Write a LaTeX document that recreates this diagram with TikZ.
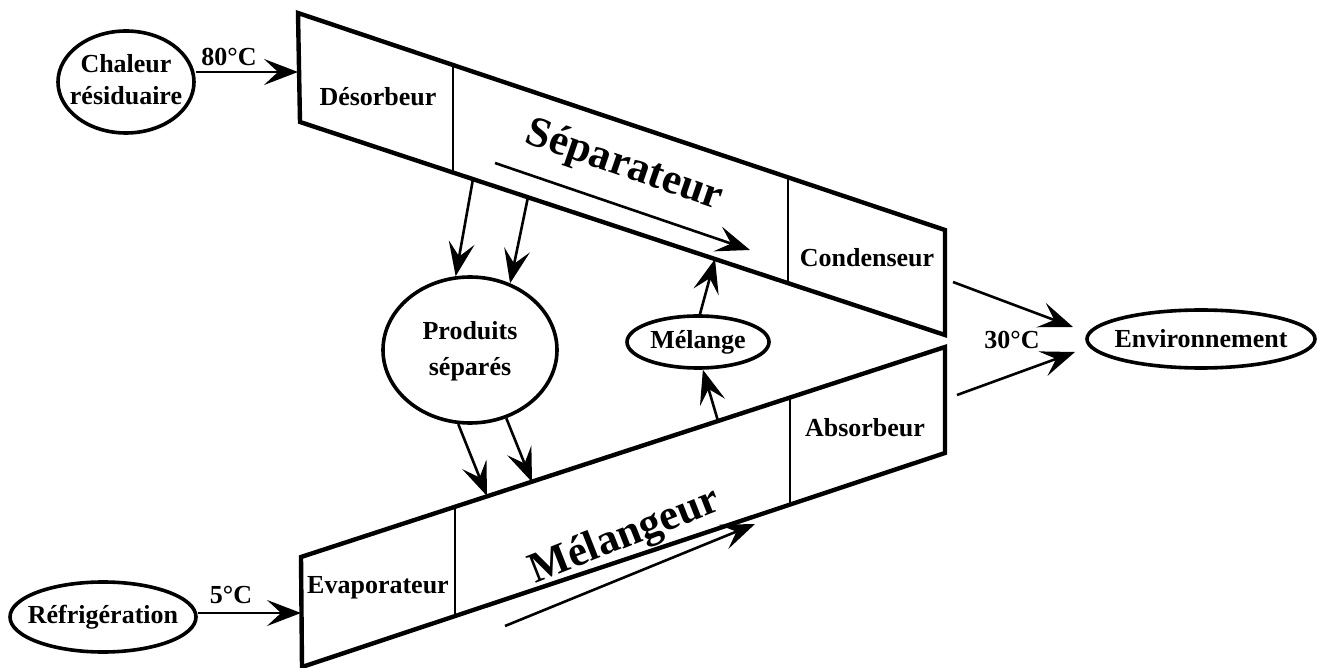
\documentclass[tikz,border=0pt]{standalone}
\usepackage{fontspec}
\setmainfont{Liberation Serif}
\usetikzlibrary{arrows.meta,shapes.geometric}
\begin{document}
\begin{tikzpicture}[x=0.5pt,y=-0.5pt,
  lab/.style={font=\fontsize{13}{16}\selectfont\bfseries, inner sep=0pt},
  big/.style={font=\fontsize{21.5}{24}\selectfont\bfseries, inner sep=0pt},
  ell/.style={draw, ellipse, line width=1.8pt, inner sep=0pt, font=\fontsize{13}{16}\selectfont\bfseries},
  trapbox/.style={draw, line width=2.2pt, line join=miter},
  divline/.style={draw, line width=1pt},
  arr/.style={draw, line width=1.3pt, -{Stealth[length=17pt,width=13pt,inset=7pt]}}
]
\useasboundingbox (0,0) rectangle (1324,668);

% upper trapezoid (Separateur)
\coordinate (U1) at (298,13);
\coordinate (U2) at (945,230);
\coordinate (U3) at (945,335);
\coordinate (U4) at (300,122);
\draw[trapbox] (U1) -- (U2) -- (U3) -- (U4) -- cycle;
\draw[divline] (453,65) -- (453,172.5);
\draw[divline] (788,177) -- (788,283);

% lower trapezoid (Melangeur)
\coordinate (L1) at (301,557);
\coordinate (L2) at (945,347);
\coordinate (L3) at (945,453);
\coordinate (L4) at (302,667);
\draw[trapbox] (L1) -- (L2) -- (L3) -- (L4) -- cycle;
\draw[divline] (455,507) -- (455,616);
\draw[divline] (790,397.5) -- (790,504.6);

% box labels
\node[lab] (deso) at (378,97) {Désorbeur};
\node[lab] (cond) at (867,258) {Condenseur};
\node[lab] (evap) at (378,588) {Evaporateur};
\node[lab] (abso) at (865,428) {Absorbeur};
\node[big, rotate=-19] (sep) at (624,166) {Séparateur};
\node[big, rotate=21.5] (mlg) at (625,537) {Mélangeur};

% ellipses
\node[ell, minimum width=68pt, minimum height=51pt] (ch) at (126,82)
  {\makebox[0pt]{\begin{tabular}{@{}c@{}}Chaleur\\résiduaire\end{tabular}}};
\node[ell, minimum width=93pt, minimum height=35pt] (ref) at (103,617) {\makebox[0pt]{Réfrigération}};
\node[ell, minimum width=87pt, minimum height=73pt, font=\fontsize{13}{18}\selectfont\bfseries] (prod) at (470,350)
  {\makebox[0pt]{\begin{tabular}{@{}c@{}}Produits\\séparés\end{tabular}}};
\node[ell, minimum width=71pt, minimum height=26pt] (mel) at (698,342) {\makebox[0pt]{Mélange}};
\node[ell, minimum width=114pt, minimum height=29pt] (env) at (1201,339) {\makebox[0pt]{Environnement}};

% temperatures
\node[lab] (t80) at (229,57) {80°C};
\node[lab] (t5) at (231,595) {5°C};
\node[lab] (t30) at (1012,340) {30°C};

% inputs
\coordinate (cin) at (298,72);
\draw[arr] (ch.east |- cin) -- (cin);
\coordinate (rin) at (301,613);
\draw[arr] (ref.east |- rin) -- (rin);

% separateur -> produits
\coordinate (s1) at (473,179);
\coordinate (s2) at (528,197);
\draw[arr] (s1) -- (prod.101);
\draw[arr] (s2) -- (prod.59);

% produits -> melangeur
\coordinate (m1) at (487,496);
\coordinate (m2) at (532,482);
\draw[arr] (prod.261) -- (m1);
\draw[arr] (prod.298) -- (m2);

% melange
\coordinate (mu) at (715,259);
\coordinate (ml) at (718,421);
\draw[arr] (mel.86) -- (mu);
\draw[arr] (ml) -- (mel.280);

% inner flow arrows
\coordinate (sa1) at (495,163);
\coordinate (sa2) at (750,250);
\draw[arr] (sa1) -- (sa2);
\coordinate (ma1) at (505,626);
\coordinate (ma2) at (755,524);
\draw[arr] (ma1) -- (ma2);

% to environment
\coordinate (ea1) at (953,282);
\coordinate (ea2) at (1073,327);
\coordinate (eb1) at (957,395);
\coordinate (eb2) at (1075,352);
\draw[arr] (ea1) -- (ea2);
\draw[arr] (eb1) -- (eb2);
\end{tikzpicture}
\end{document}
